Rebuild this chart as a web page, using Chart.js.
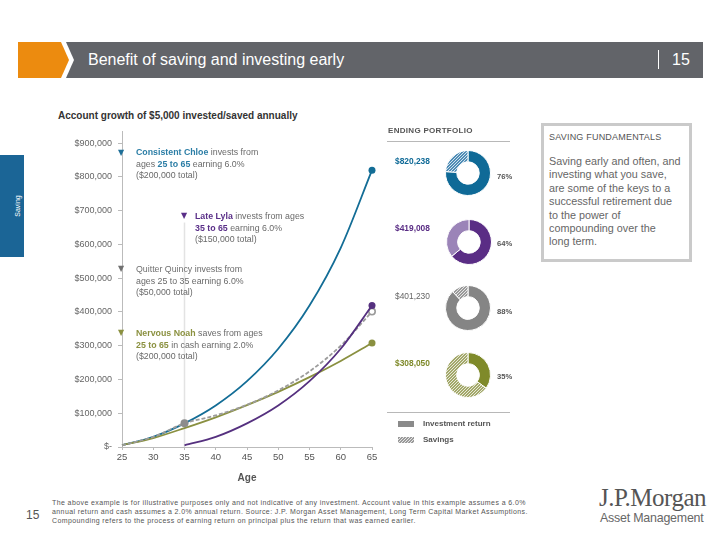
<!DOCTYPE html>
<html>
<head>
<meta charset="utf-8">
<script src="https://cdn.jsdelivr.net/npm/chart.js@4/dist/chart.umd.min.js"></script>
<style>
  body { margin: 0; width: 720px; height: 540px; position: relative; background: #fff; font-family: "Liberation Sans", Arial, sans-serif; color: #666; overflow: hidden; }
  .abs { position: absolute; white-space: nowrap; }
  #header { left: 18px; top: 42px; width: 685px; height: 36px; background: #626469; }
  #chev-white { left: 18px; top: 42px; width: 60px; height: 36px; background: #fff; clip-path: polygon(0 0, 48px 0, 56px 50%, 48px 100%, 0 100%); }
  #chev-orange { left: 18px; top: 42px; width: 60px; height: 36px; background: #ec8b0f; clip-path: polygon(0 0, 43px 0, 51px 50%, 43px 100%, 0 100%); }
  #title { left: 88px; top: 51px; font-size: 16px; color: #fff; }
  #pagebar { left: 658px; top: 50px; width: 1px; height: 19px; background: #fff; }
  #pagenum { left: 672px; top: 51px; font-size: 16px; color: #fff; }
  #tab { left: 0; top: 155px; width: 24px; height: 102px; background: #1b6596; }
  #tabtext { left: 0; top: 155px; width: 24px; height: 102px; }
  #tabtext span { position: absolute; left: 17px; top: 51px; transform: translate(-50%, -50%) rotate(-90deg); color: #fff; font-size: 7px; }
  #charttitle { left: 58px; top: 110px; font-size: 10px; font-weight: bold; color: #333; }
  #lineWrap { left: 40px; top: 120px; width: 350px; height: 365px; }
  .note { font-size: 8.8px; line-height: 11.6px; color: #6a6a6a; }
  .tri { font-size: 8px; font-family: "DejaVu Sans", sans-serif; }
  .chloe { color: #2c7ea6; font-weight: bold; }
  .lyla { color: #5a2f88; font-weight: bold; }
  .quincy { color: #707070; }
  .noah { color: #8b9140; font-weight: bold; }
  #ending { left: 388px; top: 126px; font-size: 8px; font-weight: bold; color: #555; letter-spacing: 0.3px; }
  .rule { left: 387px; width: 123px; height: 1px; background: #b8b8b8; }
  .donut { width: 46px; height: 46px; }
  .amt { font-size: 8.4px; font-weight: bold; }
  .pct { font-size: 7.6px; font-weight: bold; color: #555; }
  .legtext { font-size: 8px; color: #555; font-weight: bold; }
  #sidebox { left: 541px; top: 123px; width: 145px; height: 133px; border: 3px solid #cacaca; }
  #sidehead { left: 549px; top: 132px; font-size: 9px; color: #555; letter-spacing: 0.2px; }
  #sidebody { left: 549px; top: 155px; font-size: 10.8px; line-height: 13.4px; color: #666; }
  #foot15 { left: 26px; top: 508px; font-size: 12px; color: #555; }
  #foottext { left: 52px; top: 498px; font-size: 7px; line-height: 9px; color: #555; letter-spacing: 0.4px; }
  #jpm { left: 599px; top: 484px; font-family: "Liberation Serif", "DejaVu Serif", serif; font-size: 25px; color: #555; letter-spacing: -0.5px; }
  #am { left: 600px; top: 511px; font-size: 12.4px; color: #666; letter-spacing: -0.2px; }
</style>
</head>
<body>
<div class="abs" id="header"></div>
<div class="abs" id="chev-white"></div>
<div class="abs" id="chev-orange"></div>
<div class="abs" id="title">Benefit of saving and investing early</div>
<div class="abs" id="pagebar"></div>
<div class="abs" id="pagenum">15</div>

<div class="abs" id="tab"></div>
<div class="abs" id="tabtext"><span>Saving</span></div>

<div class="abs" id="charttitle">Account growth of $5,000 invested/saved annually</div>
<div class="abs" id="lineWrap"><canvas id="lineChart"></canvas></div>

<div class="abs tri" style="left:118px;top:148px;color:#1f6f98">▼</div>
<div class="abs note" style="left:136px;top:147px"><span class="chloe">Consistent Chloe</span> invests from<br>ages <span class="chloe">25 to 65</span> earning 6.0%<br>($200,000 total)</div>

<div class="abs tri" style="left:181px;top:211px;color:#5a2f88">▼</div>
<div class="abs note" style="left:195px;top:211px"><span class="lyla">Late Lyla</span> invests from ages<br><span class="lyla">35 to 65</span> earning 6.0%<br>($150,000 total)</div>

<div class="abs tri" style="left:118px;top:264px;color:#707070">▼</div>
<div class="abs note" style="left:136px;top:264px"><span class="quincy">Quitter Quincy</span> invests from<br>ages 25 to 35 earning 6.0%<br>($50,000 total)</div>

<div class="abs tri" style="left:118px;top:328px;color:#8b9140">▼</div>
<div class="abs note" style="left:136px;top:328px"><span class="noah">Nervous Noah</span> saves from ages<br><span class="noah">25 to 65</span> in cash earning 2.0%<br>($200,000 total)</div>

<div class="abs" id="ending">ENDING PORTFOLIO</div>
<div class="abs rule" style="top:141px"></div>

<div class="abs amt" id="amt0" style="left:395px;top:156px"></div>
<div class="abs amt" id="amt1" style="left:395px;top:223px"></div>
<div class="abs amt" id="amt2" style="left:395px;top:291px;font-weight:normal"></div>
<div class="abs amt" id="amt3" style="left:395px;top:358px"></div>
<div class="abs pct" id="pct0" style="left:497px;top:172px"></div>
<div class="abs pct" id="pct1" style="left:497px;top:239px"></div>
<div class="abs pct" id="pct2" style="left:497px;top:307px"></div>
<div class="abs pct" id="pct3" style="left:497px;top:372px"></div>

<div class="abs donut" style="left:445px;top:150px"><canvas id="donut0"></canvas></div>
<div class="abs donut" style="left:446px;top:219px"><canvas id="donut1"></canvas></div>
<div class="abs donut" style="left:445px;top:285px"><canvas id="donut2"></canvas></div>
<div class="abs donut" style="left:445px;top:352px"><canvas id="donut3"></canvas></div>

<div class="abs rule" style="top:412px"></div>
<div class="abs" style="left:398px;top:421px;width:16px;height:6px;background:#8a8a8a"></div>
<div class="abs legtext" style="left:423px;top:419px">Investment return</div>
<canvas class="abs" id="hatchSwatch" width="16" height="6" style="left:398px;top:437px"></canvas>
<div class="abs legtext" style="left:423px;top:435px">Savings</div>

<div class="abs" id="sidebox"></div>
<div class="abs" id="sidehead">SAVING FUNDAMENTALS</div>
<div class="abs" id="sidebody">Saving early and often, and<br>investing what you save,<br>are some of the keys to a<br>successful retirement due<br>to the power of<br>compounding over the<br>long term.</div>

<div class="abs" id="foot15">15</div>
<div class="abs" id="foottext">The above example is for illustrative purposes only and not indicative of any investment. Account value in this example assumes a 6.0%<br>annual return and cash assumes a 2.0% annual return. Source: J.P. Morgan Asset Management, Long Term Capital Market Assumptions.<br>Compounding refers to the process of earning return on principal plus the return that was earned earlier.</div>
<div class="abs" id="jpm">J.P.Morgan</div>
<div class="abs" id="am">Asset Management</div>

<script>
// ages on the x axis, values every 5 years
const ages = [25, 30, 35, 40, 45, 50, 55, 60, 65];
const chloe  = [5000, 30000, 70000, 123000, 195000, 291000, 419000, 590000, 820238];
const lyla   = [null, null, 5000, 30000, 70000, 123000, 195000, 291000, 419008];
const quincy = [5000, 30000, 70000, 93500, 125000, 167500, 224000, 300000, 401230];
const noah   = [5000, 26500, 56000, 88000, 124000, 163500, 207000, 255000, 308050];
const yTicks = [0, 100000, 200000, 300000, 400000, 500000, 600000, 700000, 800000, 900000];

// ending portfolio doughnuts
const endingValues = [820238, 419008, 401230, 308050];
const returnPct = [76, 64, 88, 35];
const savingsPct = [24, 36, 12, 65];
const donutColors = ['#0f6a97', '#5a2d85', '#858585', '#7f8a2a'];
const savingsColors = ['#4f8db6', '#9b84b8', '#9a9a9a', '#a3a86a'];

Chart.defaults.font.family = '"Liberation Sans", Arial, sans-serif';
Chart.defaults.animation = false;

// fine diagonal stripes for the "Savings" share
function hatch(color) {
  const c = document.createElement('canvas');
  c.width = 3; c.height = 3;
  const g = c.getContext('2d');
  g.fillStyle = color;
  g.fillRect(0, 0, 3, 3);
  g.fillStyle = 'rgba(255,255,255,0.75)';
  g.fillRect(0, 2, 1, 1);
  g.fillRect(1, 1, 1, 1);
  g.fillRect(2, 0, 1, 1);
  return g.createPattern(c, 'repeat');
}

function toPoints(values) {
  return ages.map((a, i) => ({ x: a, y: values[i] })).filter(p => p.y !== null);
}

const fmt = v => '$' + v.toLocaleString('en-US');

const lylaGuide = {
  id: 'lylaGuide',
  beforeDatasetsDraw(chart) {
    const { ctx, scales: { x, y } } = chart;
    const px = x.getPixelForValue(35);
    ctx.save();
    ctx.strokeStyle = '#e3e3e3';
    ctx.lineWidth = 1.5;
    ctx.beginPath();
    ctx.moveTo(px, y.getPixelForValue(665000));
    ctx.lineTo(px, y.getPixelForValue(0));
    ctx.stroke();
    ctx.restore();
  }
};

const lastOnly = (r) => ctx => ctx.dataIndex === ctx.dataset.data.length - 1 ? r : 0;

new Chart(document.getElementById('lineChart'), {
  type: 'line',
  data: {
    datasets: [
      {
        label: 'Late Lyla', data: toPoints(lyla),
        borderColor: '#55307f', backgroundColor: '#55307f',
        pointRadius: lastOnly(3.5), pointBorderWidth: 0
      },
      {
        label: 'Quitter Quincy', data: toPoints(quincy),
        borderColor: '#9c9c9c', borderDash: [4, 2],
        pointRadius: ctx => (ctx.raw.x === 35 ? 4 : lastOnly(3.2)(ctx)),
        pointBackgroundColor: ctx => (ctx.raw.x === 35 ? '#8c8c8c' : '#fff'),
        pointBorderColor: '#9a9a9a',
        pointBorderWidth: ctx => (ctx.raw.x === 35 ? 0 : 1.6)
      },
      {
        label: 'Nervous Noah', data: toPoints(noah),
        borderColor: '#8a9040', backgroundColor: '#8a9040',
        pointRadius: lastOnly(3.5), pointBorderWidth: 0
      },
      {
        label: 'Consistent Chloe', data: toPoints(chloe),
        borderColor: '#136d96', backgroundColor: '#136d96',
        pointRadius: lastOnly(3.5), pointBorderWidth: 0
      }
    ]
  },
  options: {
    responsive: true,
    maintainAspectRatio: false,
    clip: false,
    layout: { padding: { top: 10, right: 18 } },
    elements: { line: { borderWidth: 1.8, cubicInterpolationMode: 'monotone' } },
    plugins: { legend: { display: false }, tooltip: { enabled: false } },
    scales: {
      x: {
        type: 'linear', min: 25, max: 65,
        ticks: { stepSize: 5, font: { size: 9.5 }, color: '#555', padding: 2 },
        grid: { drawOnChartArea: false, tickLength: 3, color: '#bbb' },
        border: { color: '#bbb' },
        title: { display: true, text: 'Age', font: { size: 10, weight: 'bold' }, color: '#555', padding: 1 },
        afterFit: s => { s.height = 38; }
      },
      y: {
        min: 0, max: 935000,
        afterBuildTicks: s => { s.ticks = yTicks.map(v => ({ value: v })); },
        ticks: { font: { size: 9 }, color: '#666', padding: 6, callback: v => (v === 0 ? '$-' : fmt(v)) },
        grid: { drawOnChartArea: false, tickLength: 4, color: '#bbb' },
        border: { color: '#bbb' },
        afterFit: s => { s.width = 82; }
      }
    }
  },
  plugins: [lylaGuide]
});

endingValues.forEach((v, i) => {
  const amt = document.getElementById('amt' + i);
  amt.textContent = fmt(v);
  amt.style.color = i === 2 ? '#666' : donutColors[i];
  document.getElementById('pct' + i).textContent = returnPct[i] + '%';
  const savingsFill = i === 1 ? savingsColors[i] : hatch(savingsColors[i]);
  new Chart(document.getElementById('donut' + i), {
    type: 'doughnut',
    data: {
      labels: ['Investment return', 'Savings'],
      datasets: [{
        data: [returnPct[i], savingsPct[i]],
        backgroundColor: [donutColors[i], savingsFill],
        borderColor: '#fff',
        borderWidth: 1
      }]
    },
    options: {
      responsive: true,
      maintainAspectRatio: false,
      cutout: '50%',
      plugins: { legend: { display: false }, tooltip: { enabled: false } }
    }
  });
});

const sw = document.getElementById('hatchSwatch').getContext('2d');
sw.fillStyle = hatch('#9a9a9a');
sw.fillRect(0, 0, 16, 6);
</script>
</body>
</html>
